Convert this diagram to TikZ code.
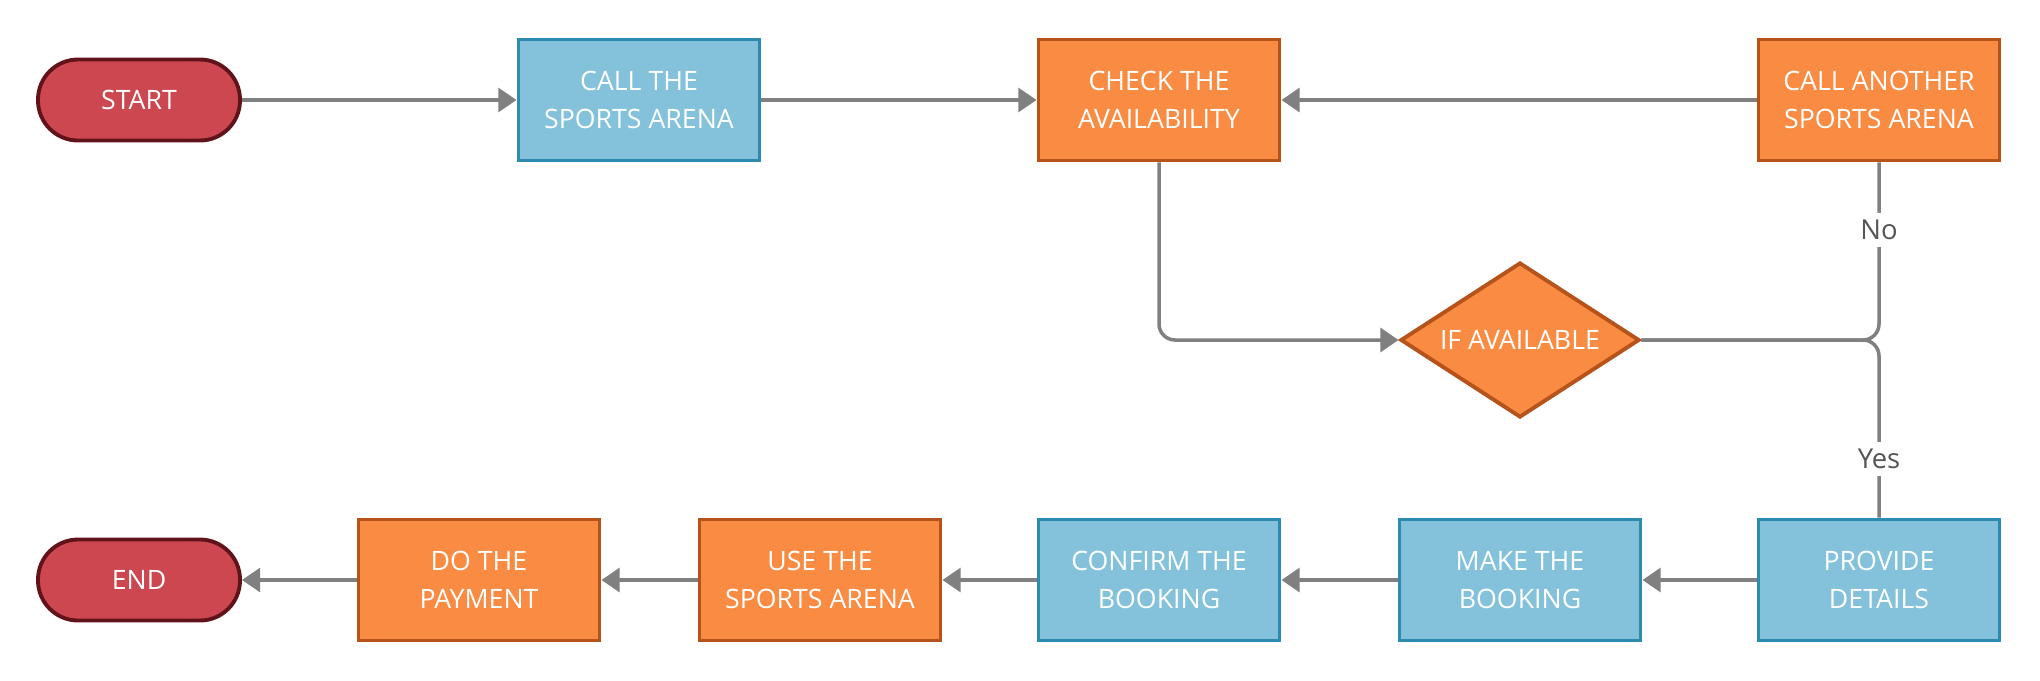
\documentclass[tikz,border=0pt]{standalone}
\usepackage{fontspec}
\setmainfont{Open Sans}
\usetikzlibrary{shapes.geometric}
\usetikzlibrary{arrows.meta}
\usetikzlibrary{calc}

\definecolor{termfill}{RGB}{204,71,80}
\definecolor{termline}{RGB}{96,20,25}
\definecolor{bluefill}{RGB}{132,194,220}
\definecolor{blueline}{RGB}{46,139,176}
\definecolor{orangefill}{RGB}{250,139,67}
\definecolor{orangeline}{RGB}{181,83,26}
\definecolor{linkgray}{RGB}{128,128,128}
\definecolor{labelgray}{RGB}{85,85,85}

\tikzset{
  boxtext/.style={text=white, align=center, font=\fontsize{7.6}{10.7}\selectfont},
  terminal/.style={boxtext, draw=termline, fill=termfill, line width=1.1pt, rounded corners=0.4cm, minimum width=2.02cm, minimum height=0.81cm, inner sep=0pt},
  bluebox/.style={boxtext, draw=blueline, fill=bluefill, line width=1.1pt, minimum width=2.41cm, minimum height=1.21cm, inner sep=0pt},
  orangebox/.style={boxtext, draw=orangeline, fill=orangefill, line width=1.1pt, minimum width=2.41cm, minimum height=1.21cm, inner sep=0pt},
  decision/.style={boxtext, diamond, aspect=1.5, draw=orangeline, fill=orangefill, line width=1.1pt, minimum width=2.39cm, minimum height=1.55cm, inner sep=0pt},
  link/.style={draw=linkgray, line width=1pt},
  linkarrow/.style={link, -{Triangle[length=5.2pt, width=6.8pt]}},
  lbl/.style={fill=white, text=labelgray, inner sep=2pt, font=\fontsize{7.8}{9}\selectfont}
}

\begin{document}
\begin{tikzpicture}
          \useasboundingbox (0, 0) rectangle (20.4, 6.8);
          \node[terminal] (start) at (1.39, 5.80) {START};
          \node[bluebox] (call) at (6.39, 5.80) {CALL THE \\ SPORTS ARENA};
          \node[orangebox] (check) at (11.59, 5.80) {CHECK THE \\ AVAILABILITY};
          \node[orangebox] (another) at (18.79, 5.80) {CALL ANOTHER \\ SPORTS ARENA};
          %
          \node[decision] (avail) at (15.20, 3.40) {IF AVAILABLE};
          %
          \node[bluebox] (details) at (18.79, 1.00) {PROVIDE \\ DETAILS};
          \node[bluebox] (make) at (15.20, 1.00) {MAKE THE \\ BOOKING};
          \node[bluebox] (confirm) at (11.59, 1.00) {CONFIRM THE \\ BOOKING};
          \node[orangebox] (use) at (8.20, 1.00) {USE THE \\ SPORTS ARENA};
          \node[orangebox] (pay) at (4.79, 1.00) {DO THE \\ PAYMENT};
          \node[terminal] (end) at (1.39, 1.00) {END};
          %
          \draw[linkarrow] (start) -- (call);
          \draw[linkarrow] (call) -- (check);
          \draw[linkarrow] (another) -- (check);
          \draw[linkarrow, rounded corners=0.16cm] (check.south) |- (avail.west);
          \draw[link, rounded corners=0.16cm] (avail.east) -- (avail.east -| another.south) -- node[lbl, pos=0.62] {No} (another.south);
          \draw[link, rounded corners=0.16cm] (avail.east) -- (avail.east -| details.north) -- node[lbl, pos=0.67] {Yes} (details.north);
          %
          \draw[linkarrow] (details) -- (make);
          \draw[linkarrow] (make) -- (confirm);
          \draw[linkarrow] (confirm) -- (use);
          \draw[linkarrow] (use) -- (pay);
          \draw[linkarrow] (pay) -- (end);
        \end{tikzpicture}
\end{document}
